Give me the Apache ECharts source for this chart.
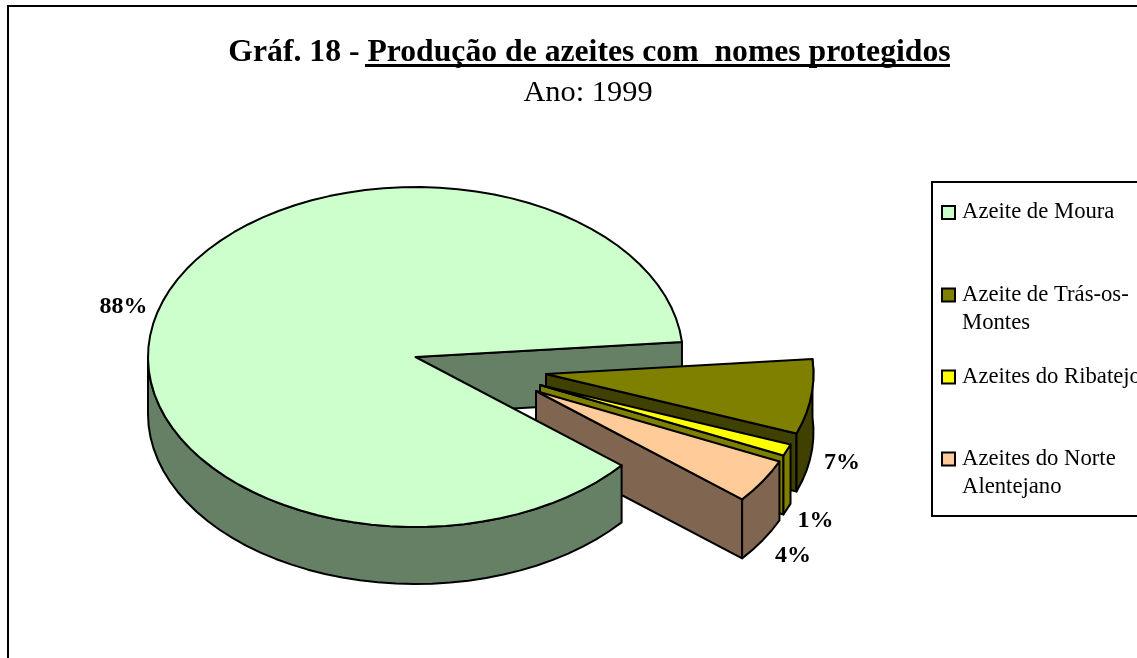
<!DOCTYPE html>
<html><head><meta charset="utf-8">
<style>html,body{margin:0;padding:0;background:#fff}#c{width:1137px;height:658px}</style>
<script src="https://cdn.jsdelivr.net/npm/echarts@6/dist/echarts.min.js"></script>
</head><body><div id="c"></div>
<script>
const categories = ['Azeite de Moura','Azeite de Trás-os-\nMontes','Azeites do Ribatejo','Azeites do Norte\nAlentejano'];
const values = [87.6,7.1,1.1,4.2];
const topColors = ['#CCFFCC','#808000','#FFFF00','#FFCC99'];
const wallColors = ['#668066','#404000','#808000','#806650'];
const centersX = [415.5,546,540,536];
const centersY = [357,374,385,391];
const depths = [57,58,59,59];
const labelX = [123.5,842,815.5,793];
const labelY = [306.5,463,520.5,555.5];
const legendCenters = [211.5,294,376,458];
const RX = 267.5, RY = 170, START = -39.6, STEP = 4;
const FONT = '"Liberation Serif","Times New Roman",serif';
const total = values.reduce((a,b)=>a+b,0);
const spans = []; let acc = START;
values.forEach(v=>{const s=v/total*360; spans.push([acc,acc-s]); acc-=s;});
function pt(i,deg,dz){const r=deg*Math.PI/180;return [centersX[i]+RX*Math.cos(r),centersY[i]-RY*Math.sin(r)+(dz||0)];}
function arc(i,a,b,dz){const n=Math.max(1,Math.ceil(Math.abs(a-b)/STEP));const o=[];for(let k=0;k<=n;k++)o.push(pt(i,a+(b-a)*k/n,dz));return o;}
const stroke={stroke:'#000',lineWidth:2,lineJoin:'round'};
function poly(points,fill,z2){return {type:'polygon',z2,shape:{points},style:{fill,...stroke}};}
function wedge(i,z2){
  const [a,b]=spans[i], d=depths[i], c=[centersX[i],centersY[i]], kids=[];
  const bot=p=>[p[0],p[1]+d];
  const e=pt(i,b);
  if(i===0){
    kids.push(poly([c,e,bot(e),bot(c)],wallColors[0],0));
    kids.push(poly(arc(0,a,-180).concat(arc(0,-180,a,d)),wallColors[0],z2));
  } else {
    kids.push(poly([c,e,bot(e),bot(c)],wallColors[i],z2));
    const hi=Math.min(a,0);
    kids.push(poly(arc(i,hi,b).concat(arc(i,b,hi,d)),wallColors[i],z2));
  }
  kids.push(poly([c].concat(arc(i,a,b)),topColors[i],z2));
  return {type:'group',children:kids};
}
const zOrder=[4,1,2,3];
const series=categories.map((name,i)=>({
  type:'custom',name,coordinateSystem:'none',
  itemStyle:{color:topColors[i]},
  data:[values[i]],
  silent:true,
  renderItem:()=>wedge(i,zOrder[i])
}));
const LH=28;
const legends=categories.map((name,i)=>{
  const two=name.includes('\n');
  return {
    data:[{name,icon:'rect'}],left:941,top:legendCenters[i]+1-(two?1.5:.5)*LH,padding:0,itemWidth:13,itemHeight:13,itemGap:0,
    formatter:n=>two?'\n'+n:n, selectedMode:false,
    itemStyle:{borderColor:'#000',borderWidth:2},
    textStyle:{fontFamily:FONT,fontSize:22.7,color:'#000',lineHeight:LH,padding:[0,0,0,2]}
  };
});
const titles=[
 {text:'Gráf. 18 - Produção de azeites com  nomes protegidos',left:589.5,top:37,padding:0,textAlign:'center',
  textStyle:{fontFamily:FONT,fontSize:31.7,fontWeight:'bold',color:'#000'}},
 {text:'Ano: 1999',left:588,top:78,padding:0,textAlign:'center',
  textStyle:{fontFamily:FONT,fontSize:30.4,fontWeight:'normal',color:'#000'}}
];
const pctLabels=values.map((v,i)=>({type:'text',x:labelX[i],y:labelY[i],
  style:{text:Math.round(v)+'%',fill:'#000',font:'bold 24px '+FONT,align:'center',verticalAlign:'middle'}}));
const chart=echarts.init(document.getElementById('c'));
chart.setOption({
 animation:false,backgroundColor:'#fff',title:titles,legend:legends,series,
 graphic:[
  {type:'rect',silent:true,shape:{x:8,y:6,width:1300,height:800},style:{fill:'none',stroke:'#000',lineWidth:2},z:-1},
  {type:'rect',silent:true,shape:{x:932,y:182,width:400,height:334},style:{fill:'#fff',stroke:'#000',lineWidth:2},z:0},
  {type:'rect',silent:true,shape:{x:365,y:64,width:585,height:3},style:{fill:'#000'}},
  ...pctLabels
 ]
});
</script></body></html>
